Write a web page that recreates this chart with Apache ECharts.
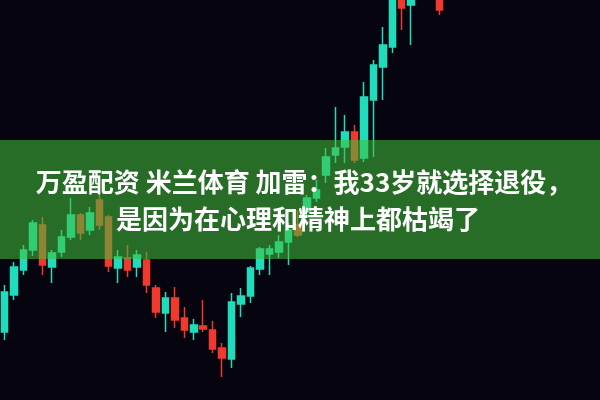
<!DOCTYPE html>
<html>
<head>
<meta charset="utf-8">
<script src="https://cdn.jsdelivr.net/npm/echarts@6/dist/echarts.min.js"></script>
<style>
html,body{margin:0;padding:0;background:#05040f;}
#chart{width:600px;height:400px;}
</style>
</head>
<body>
<div id="chart"></div>
<script>
// trading days
const days = [];
for (let i = 1; i <= 63; i++) days.push('D' + i);

// [open, close, low, high]
const opens  = [6.8,10.5,13.0,15.0,17.5,13.3,14.8,16.3,18.5,17.0,20.0,18.3,13.2,14.2,13.3,14.0,11.2,8.7,10.2,8.2,6.8,7.4,7.0,5.2,4.1,9.6,10.4,13.1,14.6,14.8,15.8,17.5,18.8,20.2,22.5,24.5,25.3,26.8,24.2,30.0,33.3,35.3,42.0,39.5,41.0,44.0,41.0];
const closes = [10.8,13.3,15.0,17.7,13.5,14.7,16.3,18.5,16.7,18.7,17.5,13.4,14.3,13.0,14.5,11.5,8.8,10.2,8.0,7.0,7.5,7.1,5.1,4.2,9.8,10.4,13.2,15.1,15.1,15.8,17.0,16.5,20.2,21.0,24.3,25.2,26.8,24.0,30.3,33.5,35.5,42.0,39.2,41.0,44.0,46.0,39.0];
const lows   = [6.0,10.0,12.5,14.4,12.5,11.7,14.3,16.0,16.0,16.5,17.0,12.8,11.7,12.3,12.3,10.7,8.2,6.8,7.2,6.2,6.0,6.8,4.7,2.3,3.2,8.3,9.7,12.5,12.5,14.2,13.5,16.3,18.3,19.8,21.7,23.7,23.7,23.7,23.8,24.3,30.0,34.7,37.0,35.5,40.5,43.0,38.5];
const highs  = [11.5,13.8,15.5,18.0,18.3,15.0,17.0,20.2,18.7,19.3,20.7,18.5,15.0,15.5,15.0,14.8,11.5,10.8,11.3,9.3,8.1,10.0,7.9,5.7,10.7,11.2,13.4,15.3,15.5,16.5,17.7,19.0,20.5,22.0,25.2,29.3,28.5,27.5,31.8,34.0,37.3,43.0,43.0,42.0,45.0,47.0,41.5];

const titleLines = ['万盈配资 米兰体育 加雷：我33岁就选择退役，', '是因为在心理和精神上都枯竭了'];

const candles = opens.map((o, i) => [o, closes[i], lows[i], highs[i]]);

const chart = echarts.init(document.getElementById('chart'));
chart.setOption({
  backgroundColor: '#05040f',
  animation: false,
  grid: { left: -14, top: 0, width: 609.5, bottom: 0, containLabel: false },
  xAxis: { type: 'category', data: days, boundaryGap: true, show: false },
  yAxis: { type: 'value', min: 0, max: 40, show: false },
  series: [{
    type: 'candlestick',
    data: candles,
    barWidth: 7,
    clip: true,
    itemStyle: {
      color: '#1fdcbc',
      color0: '#f03a2e',
      borderColor: '#1fdcbc',
      borderColor0: '#f03a2e',
      borderWidth: 1.5
    }
  }],
  graphic: [
    { type: 'rect', shape: { x: 0, y: 140, width: 600, height: 119 }, style: { fill: 'rgba(66,190,58,0.56)' }, z: 100 },
    { type: 'text', x: 304, y: 182, z: 101, style: { text: titleLines[0], fill: '#ffffff', font: 'bold 26px "Noto Sans CJK SC"', align: 'center', verticalAlign: 'middle' } },
    { type: 'text', x: 298, y: 219, z: 101, style: { text: titleLines[1], fill: '#ffffff', font: 'bold 26px "Noto Sans CJK SC"', align: 'center', verticalAlign: 'middle' } }
  ]
});
</script>
</body>
</html>
